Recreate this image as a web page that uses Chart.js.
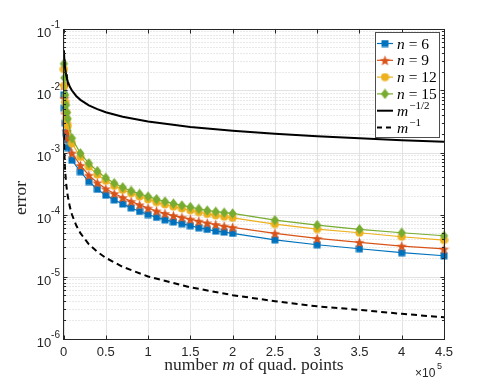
<!DOCTYPE html>
<html>
<head>
<meta charset="utf-8">
<script src="https://cdn.jsdelivr.net/npm/chart.js@4/dist/chart.umd.min.js"></script>
<style>
  html, body { margin: 0; padding: 0; background: #fff; }
  #wrap { width: 491px; height: 381px; }
</style>
</head>
<body>
<div id="wrap"><canvas id="chart" width="491" height="381"></canvas></div>
<script>
// quadrature point counts m used for the four error curves
const quadPoints = [500, 1000, 2000, 3000, 4000, 5000, 10000,
  20000, 30000, 40000, 50000, 60000, 70000, 80000, 90000, 100000,
  110000, 120000, 130000, 140000, 150000, 160000, 170000, 180000, 190000, 200000,
  250000, 300000, 350000, 400000, 450000];

const errN6 = [0.0085, 0.0052, 0.0030, 0.0021, 0.0016, 0.0012, 7.5e-4,
  4.9e-4, 3.4e-4, 2.55e-4, 2.05e-4, 1.72e-4, 1.48e-4, 1.28e-4, 1.12e-4, 1.0e-4,
  9.0e-5, 8.2e-5, 7.6e-5, 7.1e-5, 6.6e-5, 6.1e-5, 5.75e-5, 5.4e-5, 5.2e-5, 4.97e-5,
  3.9e-5, 3.25e-5, 2.8e-5, 2.42e-5, 2.16e-5];

const errN9 = [0.012, 0.0075, 0.0042, 0.0029, 0.0022, 0.0017, 9.8e-4,
  6.2e-4, 4.3e-4, 3.25e-4, 2.6e-4, 2.18e-4, 1.88e-4, 1.63e-4, 1.43e-4, 1.27e-4,
  1.14e-4, 1.04e-4, 9.6e-5, 9.0e-5, 8.4e-5, 7.8e-5, 7.3e-5, 6.9e-5, 6.5e-5, 6.2e-5,
  4.97e-5, 4.12e-5, 3.56e-5, 3.1e-5, 2.78e-5];

const errN12 = [0.022, 0.012, 0.0065, 0.0045, 0.0034, 0.0027, 1.4e-3,
  8.5e-4, 5.9e-4, 4.4e-4, 3.5e-4, 2.9e-4, 2.5e-4, 2.2e-4, 1.95e-4, 1.75e-4,
  1.58e-4, 1.45e-4, 1.34e-4, 1.25e-4, 1.17e-4, 1.09e-4, 1.02e-4, 9.7e-5, 9.2e-5, 8.85e-5,
  7.0e-5, 5.82e-5, 5.08e-5, 4.38e-5, 3.87e-5];

const errN15 = [0.027, 0.016, 0.0085, 0.0058, 0.0044, 0.0035, 1.7e-3,
  9.7e-4, 6.7e-4, 5.0e-4, 3.9e-4, 3.2e-4, 2.75e-4, 2.4e-4, 2.15e-4, 1.95e-4,
  1.77e-4, 1.62e-4, 1.5e-4, 1.4e-4, 1.32e-4, 1.23e-4, 1.16e-4, 1.11e-4, 1.07e-4, 1.04e-4,
  8.1e-5, 6.75e-5, 5.76e-5, 5.08e-5, 4.54e-5];

// reference rates
const refPoints = [500, 1000, 1500, 2000, 3000, 4000, 5000, 7500, 10000, 15000, 20000,
  30000, 40000, 50000, 70000, 100000, 150000, 200000, 250000, 300000, 350000, 400000, 450000];
const refHalf = [0.0447, 0.0316, 0.0258, 0.0224, 0.0183, 0.0158, 0.0141, 0.0115, 0.01, 0.00816, 0.00707,
  0.00577, 0.005, 0.00447, 0.00378, 0.00316, 0.00258, 0.00224, 0.002, 0.00183, 0.00169, 0.00158, 0.00149];
const refOne = [0.002, 0.001, 6.7e-4, 5e-4, 3.3e-4, 2.5e-4, 2e-4, 1.33e-4, 1e-4, 6.7e-5, 5e-5,
  3.3e-5, 2.5e-5, 2e-5, 1.43e-5, 1e-5, 6.7e-6, 5e-6, 4e-6, 3.3e-6, 2.9e-6, 2.5e-6, 2.2e-6];

const xTicks = [0, 50000, 100000, 150000, 200000, 250000, 300000, 350000, 400000, 450000];
const xTickLabels = ['0', '0.5', '1', '1.5', '2', '2.5', '3', '3.5', '4', '4.5'];
const yTickExps = [-6, -5, -4, -3, -2, -1];
const legendLabels = ['n = 6', 'n = 9', 'n = 12', 'n = 15', 'm^-1/2', 'm^-1'];

const AX = '#262626';
const SANS = "'Liberation Sans', Arial, sans-serif";
const SERIF = "'Liberation Serif', 'Times New Roman', serif";

function makeMarker(shape, color) {
  const size = { square: 8, circle: 9, diamond: 11, star: 11 }[shape];
  const c = document.createElement('canvas');
  c.width = size; c.height = size;
  const g = c.getContext('2d');
  const h = size / 2;
  g.fillStyle = color;
  g.beginPath();
  if (shape === 'square') {
    g.rect(0.5, 0.5, size - 1, size - 1);
  } else if (shape === 'circle') {
    g.arc(h, h, h - 0.4, 0, Math.PI * 2);
  } else if (shape === 'diamond') {
    g.moveTo(h, 0.2); g.lineTo(size - 1.4, h); g.lineTo(h, size - 0.2); g.lineTo(1.4, h);
    g.closePath();
  } else {
    for (let i = 0; i < 10; i++) {
      const r = i % 2 ? h * 0.42 : h;
      const a = -Math.PI / 2 + i * Math.PI / 5;
      g.lineTo(h + r * Math.cos(a), h + 0.6 + r * Math.sin(a));
    }
    g.closePath();
  }
  g.fill();
  return c;
}

function series(label, xs, ys, color, marker, order) {
  return {
    label,
    data: xs.map((m, i) => ({ x: m, y: ys[i] })),
    borderColor: color,
    backgroundColor: color,
    borderWidth: 1.2,
    pointStyle: marker ? makeMarker(marker, color) : false,
    pointRadius: marker ? 4 : 0,
    showLine: true,
    clip: false,
    order
  };
}

const datasets = [
  series(legendLabels[0], quadPoints, errN6, '#0072BD', 'square', 6),
  series(legendLabels[1], quadPoints, errN9, '#D95319', 'star', 5),
  series(legendLabels[2], quadPoints, errN12, '#EDB120', 'circle', 4),
  series(legendLabels[3], quadPoints, errN15, '#77AC30', 'diamond', 3),
  Object.assign(series(legendLabels[4], refPoints, refHalf, '#000000', null, 2), { borderWidth: 2 }),
  Object.assign(series(legendLabels[5], refPoints, refOne, '#000000', null, 1), { borderWidth: 2, borderDash: [6, 4] })
];

function drawRich(ctx, label, x, y, size) {
  // first char italic, optional ^ superscript
  const [main, sup] = label.split('^');
  ctx.textBaseline = 'alphabetic';
  ctx.textAlign = 'left';
  ctx.font = `italic ${size}px ${SERIF}`;
  ctx.fillText(main[0], x, y);
  x += ctx.measureText(main[0]).width;
  if (main.length > 1) {
    ctx.font = `${size}px ${SERIF}`;
    ctx.fillText(main.slice(1), x, y);
    x += ctx.measureText(main.slice(1)).width;
  }
  if (sup) {
    ctx.font = `${Math.round(size * 0.72)}px ${SERIF}`;
    ctx.fillText(sup.replace('-', '\u2212'), x + 1, y - size * 0.42);
  }
}

const frame = {
  id: 'frame',
  beforeDatasetsDraw(chart) {
    const { ctx, chartArea: a, scales: { x, y } } = chart;
    ctx.save();
    ctx.lineWidth = 1;
    // minor y grid
    ctx.strokeStyle = '#d2d2d2';
    ctx.setLineDash([1, 2]);
    yTickExps.slice(0, -1).forEach(e => {
      for (let k = 2; k <= 9; k++) {
        const py = Math.round(y.getPixelForValue(k * Math.pow(10, e))) + 0.5;
        ctx.beginPath(); ctx.moveTo(a.left, py); ctx.lineTo(a.right, py); ctx.stroke();
      }
    });
    ctx.setLineDash([]);
    ctx.strokeStyle = '#e3e3e3';
    yTickExps.forEach(e => {
      const py = Math.round(y.getPixelForValue(Math.pow(10, e))) + 0.5;
      ctx.beginPath(); ctx.moveTo(a.left, py); ctx.lineTo(a.right, py); ctx.stroke();
    });
    xTicks.forEach(v => {
      const px = Math.round(x.getPixelForValue(v)) + 0.5;
      ctx.beginPath(); ctx.moveTo(px, a.top); ctx.lineTo(px, a.bottom); ctx.stroke();
    });
    ctx.restore();
  },
  afterDatasetsDraw(chart) {
    const { ctx, chartArea: a, scales: { x, y } } = chart;
    const L = Math.round(a.left) - 0.5, R = Math.round(a.right) + 0.5;
    const T = Math.round(a.top) + 0.5, B = Math.round(a.bottom) + 0.5;
    ctx.save();
    ctx.strokeStyle = AX;
    ctx.fillStyle = AX;
    ctx.lineWidth = 1;
    ctx.strokeRect(L, T, R - L, B - T);
    // ticks
    ctx.beginPath();
    xTicks.forEach(v => {
      const px = Math.round(x.getPixelForValue(v)) + 0.5;
      ctx.moveTo(px, B); ctx.lineTo(px, B - 4);
      ctx.moveTo(px, T); ctx.lineTo(px, T + 4);
    });
    yTickExps.forEach(e => {
      for (let k = 1; k <= 9; k++) {
        if (e === -1 && k > 1) break;
        const py = Math.round(y.getPixelForValue(k * Math.pow(10, e))) + 0.5;
        const len = k === 1 ? 4 : 2.5;
        ctx.moveTo(L, py); ctx.lineTo(L + len, py);
        ctx.moveTo(R, py); ctx.lineTo(R - len, py);
      }
    });
    ctx.stroke();

    // x tick labels
    ctx.font = `13px ${SANS}`;
    ctx.textAlign = 'center';
    ctx.textBaseline = 'alphabetic';
    xTicks.forEach((v, i) => ctx.fillText(xTickLabels[i], x.getPixelForValue(v), 356));
    // x10^5
    ctx.textAlign = 'left';
    ctx.font = `12px ${SANS}`;
    ctx.fillText('\u00d710', 415, 377);
    ctx.font = `9px ${SANS}`;
    ctx.fillText('5', 437, 369);

    // y tick labels
    yTickExps.forEach(e => {
      const py = y.getPixelForValue(Math.pow(10, e));
      const sup = String(e);
      ctx.font = `10px ${SANS}`;
      const sw = ctx.measureText(sup).width;
      ctx.textAlign = 'left';
      ctx.fillText(sup, 60 - sw, py - 1);
      ctx.font = `13px ${SANS}`;
      ctx.textAlign = 'right';
      ctx.fillText('10', 60 - sw, py + 8.5);
    });

    // axis titles
    const fs = 17.5;
    ctx.font = `${fs}px ${SERIF}`;
    const p1 = 'number ', p3 = ' of quad. points';
    const w1 = ctx.measureText(p1).width, w3 = ctx.measureText(p3).width;
    ctx.font = `italic ${fs}px ${SERIF}`;
    const w2 = ctx.measureText('m').width;
    const tx = 254 - (w1 + w2 + w3) / 2;
    ctx.textAlign = 'left';
    ctx.font = `${fs}px ${SERIF}`;
    ctx.fillText(p1, tx, 370);
    ctx.font = `italic ${fs}px ${SERIF}`;
    ctx.fillText('m', tx + w1, 370);
    ctx.font = `${fs}px ${SERIF}`;
    ctx.fillText(p3, tx + w1 + w2, 370);

    ctx.save();
    ctx.translate(26, 198);
    ctx.rotate(-Math.PI / 2);
    ctx.textAlign = 'center';
    ctx.font = `${fs}px ${SERIF}`;
    ctx.fillText('error', 0, 0);
    ctx.restore();

    // legend
    const bx = 375.5, by = 32.5, bw = 64, bh = 105;
    ctx.fillStyle = '#fff';
    ctx.fillRect(bx, by, bw, bh);
    ctx.strokeStyle = '#4d4d4d';
    ctx.strokeRect(bx, by, bw, bh);
    chart.data.datasets.forEach((ds, i) => {
      const ry = 43.5 + i * 16.8;
      ctx.save();
      ctx.strokeStyle = ds.borderColor;
      ctx.lineWidth = ds.borderWidth;
      if (ds.borderDash) ctx.setLineDash([5, 4]);
      ctx.beginPath(); ctx.moveTo(377, ry); ctx.lineTo(393, ry); ctx.stroke();
      ctx.restore();
      if (ds.pointStyle) {
        const img = ds.pointStyle;
        ctx.drawImage(img, 385 - img.width / 2, ry - img.height / 2);
      }
      ctx.fillStyle = '#000';
      drawRich(ctx, ds.label, 397, ry + 5, 15.5);
    });
    ctx.restore();
  }
};

new Chart(document.getElementById('chart'), {
  type: 'scatter',
  data: { datasets },
  options: {
    responsive: false,
    animation: false,
    events: [],
    layout: { padding: { left: 63.5, right: 47, top: 28.5, bottom: 42.5 } },
    plugins: { legend: { display: false }, tooltip: { enabled: false } },
    scales: {
      x: { type: 'linear', min: 0, max: 450000, display: false },
      y: { type: 'logarithmic', min: 1e-6, max: 1e-1, display: false }
    }
  },
  plugins: [frame]
});
</script>
</body>
</html>
